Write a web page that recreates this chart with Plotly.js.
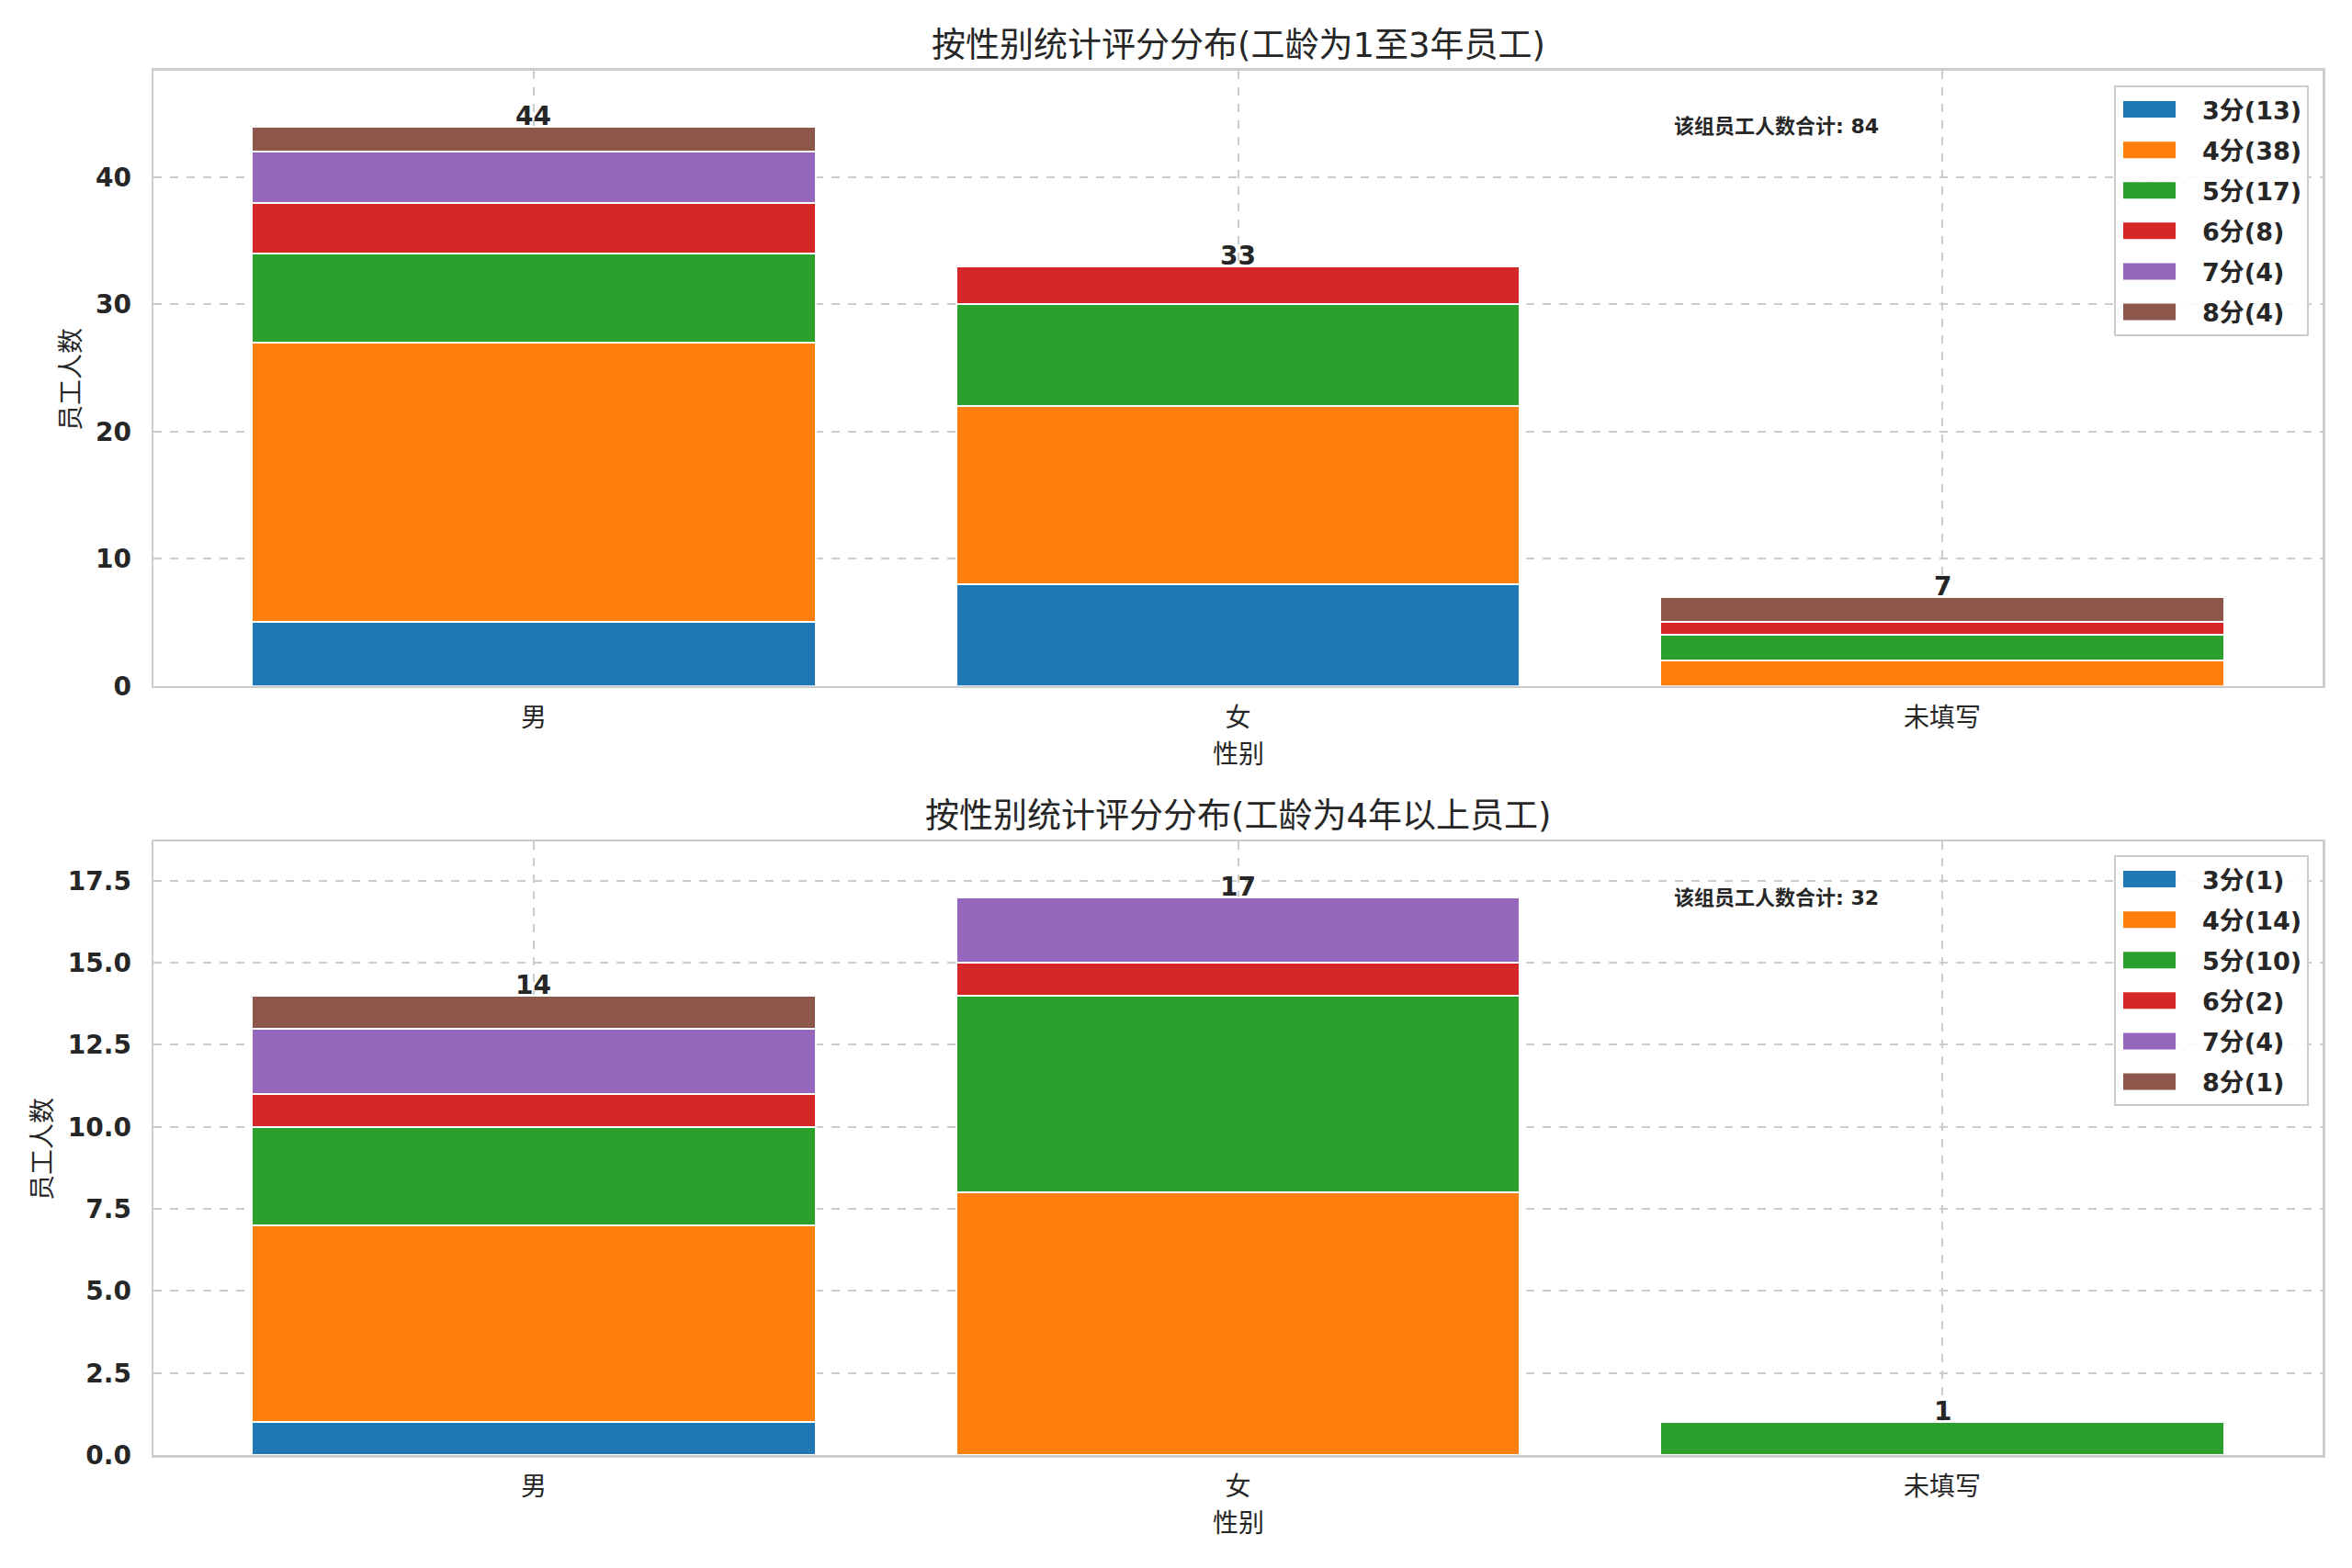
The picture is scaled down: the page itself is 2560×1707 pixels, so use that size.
<!DOCTYPE html>
<html>
<head>
<meta charset="utf-8">
<script src="https://cdn.plot.ly/plotly-3.0.1.min.js"></script>
<style>
  html, body { margin: 0; padding: 0; background: #fff; }
  #chart { width: 2560px; height: 1707px; }
</style>
</head>
<body>
<div id="chart"></div>
<script>
// 类别与等级
const cats = ['男', '女', '未填写'];
const levels = ['3', '4', '5', '6', '7', '8'];
const colors = ['#1f77b4', '#ff7f0e', '#2ca02c', '#d62728', '#9467bd', '#8c564b'];

// 工龄1至3年: 每个等级在 男/女/未填写 的人数
const countsA = [
    [5, 8, 0],
    [22, 14, 2],
    [7, 8, 2],
    [4, 3, 1],
    [4, 0, 0],
    [2, 0, 2]
];
// 工龄4年以上
const countsB = [
    [1, 0, 0],
    [6, 8, 0],
    [3, 6, 1],
    [1, 1, 0],
    [2, 2, 0],
    [1, 0, 0]
];

const titleA = '按性别统计评分分布(工龄为1至3年员工)';
const titleB = '按性别统计评分分布(工龄为4年以上员工)';
const xTitle = '性别';
const yTitle = '员工人数';
const noteLabel = '该组员工人数合计';

const fontFam = 'DejaVu Sans, Noto Sans CJK SC, sans-serif';
const ink = '#262626';
const spine = '#cccccc';

function sum(a) { return a.reduce((s, v) => s + v, 0); }

function makeTraces(counts, xa, ya, legendName) {
    let traces = [];
    counts.forEach((row, i) => {
        // 柱子本身
        traces.push({
            type: 'bar',
            x: cats,
            y: row,
            xaxis: xa,
            yaxis: ya,
            width: 0.8,
            marker: { color: colors[i], line: { color: 'white', width: 2 } },
            showlegend: false,
            hoverinfo: 'x+y'
        });
        // 图例用的宽色块
        traces.push({
            type: 'scatter',
            mode: 'lines',
            x: [null],
            y: [null],
            xaxis: xa,
            yaxis: ya,
            line: { color: colors[i], width: 18 },
            name: levels[i] + '分(' + sum(row) + ')',
            legend: legendName,
            legendgroup: legendName + levels[i],
            showlegend: true
        });
    });
    return traces;
}

function totals(counts) {
    return cats.map((c, j) => counts.reduce((s, row) => s + row[j], 0));
}

let data = makeTraces(countsA, 'x', 'y', 'legend').concat(makeTraces(countsB, 'x2', 'y2', 'legend2'));

const totA = totals(countsA);
const totB = totals(countsB);

let annotations = [];
totA.forEach((t, j) => annotations.push({
    x: cats[j], y: t, xref: 'x', yref: 'y', text: String(t), showarrow: false,
    yanchor: 'bottom', yshift: -7, font: { size: 28, weight: 'bold', color: ink }
}));
totB.forEach((t, j) => annotations.push({
    x: cats[j], y: t, xref: 'x2', yref: 'y2', text: String(t), showarrow: false,
    yanchor: 'bottom', yshift: -7, font: { size: 28, weight: 'bold', color: ink }
}));

const xDom = [167 / 2560, 2528 / 2560];
const yDomA = [1 - 746.7 / 1707, 1 - 76.7 / 1707];
const yDomB = [1 - 1584 / 1707, 1 - 916 / 1707];
const xMid = (xDom[0] + xDom[1]) / 2;

// 标题、坐标轴标题、合计说明
annotations.push(
    { text: titleA, xref: 'paper', yref: 'paper', x: xMid, y: 1 - 49 / 1707, showarrow: false,
      xanchor: 'center', yanchor: 'middle', font: { size: 37, color: ink } },
    { text: titleB, xref: 'paper', yref: 'paper', x: xMid, y: 1 - 888 / 1707, showarrow: false,
      xanchor: 'center', yanchor: 'middle', font: { size: 37, color: ink } },
    { text: xTitle, xref: 'paper', yref: 'paper', x: xMid, y: 1 - 821 / 1707, showarrow: false,
      xanchor: 'center', yanchor: 'middle', font: { size: 28, color: ink } },
    { text: xTitle, xref: 'paper', yref: 'paper', x: xMid, y: 1 - 1658 / 1707, showarrow: false,
      xanchor: 'center', yanchor: 'middle', font: { size: 28, color: ink } },
    { text: yTitle, xref: 'paper', yref: 'paper', x: 77 / 2560, y: 1 - 413 / 1707, showarrow: false,
      textangle: -90, xanchor: 'center', yanchor: 'middle', font: { size: 28, color: ink } },
    { text: yTitle, xref: 'paper', yref: 'paper', x: 46 / 2560, y: 1 - 1251 / 1707, showarrow: false,
      textangle: -90, xanchor: 'center', yanchor: 'middle', font: { size: 28, color: ink } },
    { text: noteLabel + ': ' + sum(totA), xref: 'paper', yref: 'paper', x: 1820 / 2560, y: 1 - 138 / 1707,
      showarrow: false, xanchor: 'left', yanchor: 'middle', font: { size: 22, weight: 'bold', color: ink } },
    { text: noteLabel + ': ' + sum(totB), xref: 'paper', yref: 'paper', x: 1820 / 2560, y: 1 - 977 / 1707,
      showarrow: false, xanchor: 'left', yanchor: 'middle', font: { size: 22, weight: 'bold', color: ink } }
);

function xAxis(dom, anchor) {
    return {
        domain: dom, anchor: anchor, type: 'category', range: [-0.54, 2.54],
        showgrid: true, gridcolor: spine, gridwidth: 2, griddash: 'dash',
        showline: true, mirror: true, linecolor: spine, linewidth: 2.5,
        ticks: '', ticklabelstandoff: 8,
        tickfont: { size: 28, color: ink }, zeroline: false, fixedrange: true
    };
}
function yAxis(dom, anchor, range, dtick, fmt) {
    return {
        domain: dom, anchor: anchor, range: range, dtick: dtick, tick0: 0, tickformat: fmt,
        showgrid: true, gridcolor: spine, gridwidth: 2, griddash: 'dash',
        showline: true, mirror: true, linecolor: spine, linewidth: 2.5,
        ticks: '', ticklabelstandoff: 16,
        tickfont: { size: 28, weight: 'bold', color: ink }, zeroline: false, fixedrange: true
    };
}

function legendBox(yTop) {
    return {
        x: 2513 / 2560, xanchor: 'right', y: yTop, yanchor: 'top',
        bgcolor: 'rgba(255,255,255,0.85)', bordercolor: spine, borderwidth: 2,
        font: { size: 27, weight: 'bold', color: ink, family: fontFam },
        itemwidth: 84, traceorder: 'grouped', tracegroupgap: 6
    };
}

let layout = {
    width: 2560,
    height: 1707,
    margin: { l: 0, r: 0, t: 0, b: 0 },
    paper_bgcolor: 'white',
    plot_bgcolor: 'white',
    font: { family: fontFam, color: ink },
    barmode: 'stack',
    bargap: 0.2,
    xaxis: xAxis(xDom, 'y'),
    yaxis: yAxis(yDomA, 'x', [0, 48.4], 10, 'd'),
    xaxis2: xAxis(xDom, 'y2'),
    yaxis2: yAxis(yDomB, 'x2', [0, 18.7], 2.5, '.1f'),
    legend: legendBox(1 - 93 / 1707),
    legend2: legendBox(1 - 931 / 1707),
    annotations: annotations
};

Plotly.newPlot('chart', data, layout, { displayModeBar: false, staticPlot: true }).then(gd => {
    // 图例色块画成宽矩形
    gd.querySelectorAll('.legendlines path').forEach(p => {
        p.setAttribute('d', 'M8,0h57');
        p.style.strokeWidth = '18px';
    });
});
</script>
</body>
</html>
